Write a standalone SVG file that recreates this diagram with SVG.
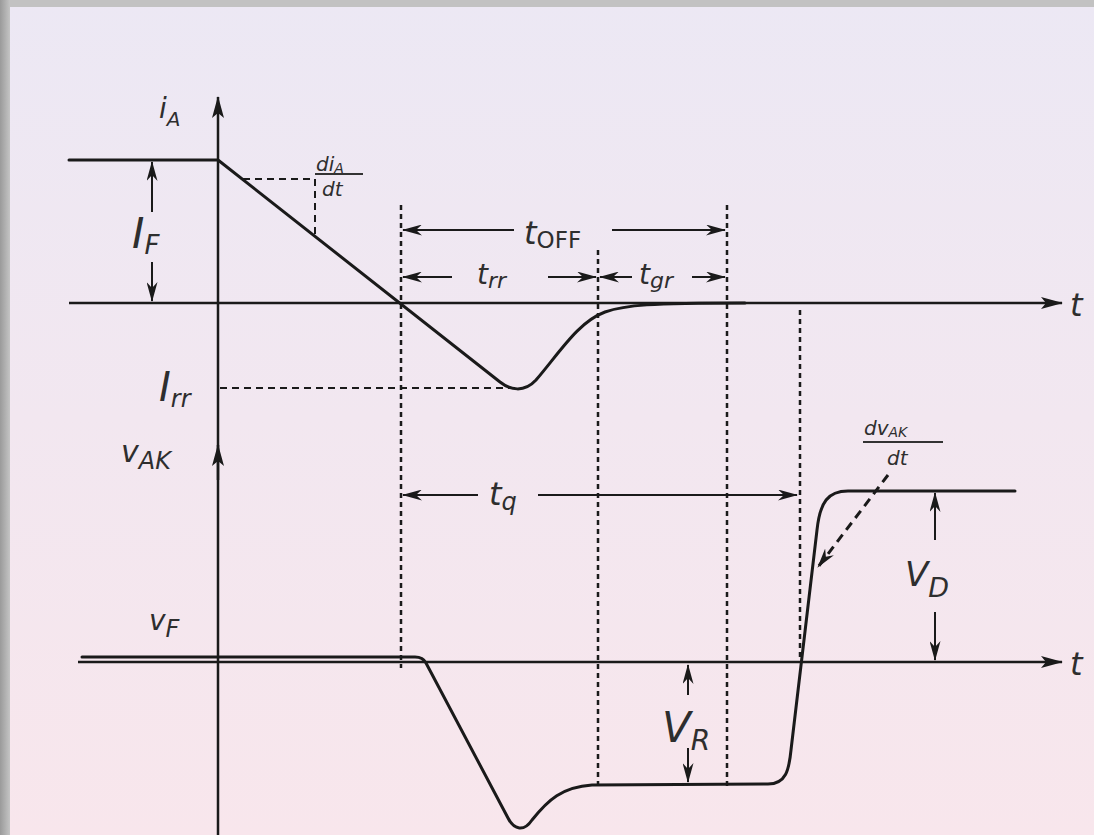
<svg xmlns="http://www.w3.org/2000/svg" width="1094" height="835" viewBox="0 0 1094 835">
<defs>
<linearGradient id="bg" x1="0" y1="0" x2="0" y2="1">
<stop offset="0" stop-color="#ece8f4"/>
<stop offset="1" stop-color="#f8e6ec"/>
</linearGradient>
<linearGradient id="fr" x1="0" y1="0" x2="1" y2="0">
<stop offset="0" stop-color="#9a9a9a"/>
<stop offset="1" stop-color="#c4c4c4"/>
</linearGradient>
<marker id="ax" viewBox="0 0 22 12" refX="21" refY="6" markerWidth="22" markerHeight="12" orient="auto" markerUnits="userSpaceOnUse">
<path d="M0,0 L22,6 L0,12 L5,6 z" fill="#1a1a1a"/>
</marker>
<marker id="ah" viewBox="0 0 20 11" refX="19" refY="5.5" markerWidth="20" markerHeight="11" orient="auto-start-reverse" markerUnits="userSpaceOnUse">
<path d="M0,0 L20,5.5 L0,11 L6,5.5 z" fill="#1a1a1a"/>
</marker>
<style>
.curve{fill:none;stroke:#1a1a1a;stroke-width:3;stroke-linejoin:round;stroke-linecap:round}
.axis{fill:none;stroke:#1a1a1a;stroke-width:2.5}
.vdash{fill:none;stroke:#1a1a1a;stroke-width:2.5;stroke-dasharray:5 4}
.hdash{fill:none;stroke:#1a1a1a;stroke-width:2;stroke-dasharray:7 5}
.dim{fill:none;stroke:#1a1a1a;stroke-width:2}
.lbl{font-family:"DejaVu Sans","Liberation Sans",sans-serif;font-style:italic;fill:#2e2e2e}
.up{font-style:normal}
</style>
</defs>
<rect x="0" y="0" width="1094" height="835" fill="url(#bg)"/>
<rect x="0" y="0" width="1094" height="7" fill="#c2c2c2"/>
<rect x="0" y="0" width="10" height="835" fill="url(#fr)"/>

<g id="axes">
<line class="axis" x1="218" y1="835" x2="218" y2="97" marker-end="url(#ax)"/>
<line class="axis" x1="218" y1="480" x2="218" y2="445" marker-end="url(#ax)"/>
<line class="axis" x1="69" y1="303" x2="1062" y2="303" marker-end="url(#ax)"/>
<line class="axis" x1="78" y1="662" x2="1062" y2="662" marker-end="url(#ax)"/>
<text class="lbl" x="1070" y="316" font-size="32">t</text>
<text class="lbl" x="1070" y="675" font-size="32">t</text>
</g>

<g id="guides">
<line class="vdash" x1="401" y1="205" x2="401" y2="668"/>
<line class="vdash" x1="598" y1="250" x2="598" y2="786"/>
<line class="vdash" x1="727" y1="205" x2="727" y2="786"/>
<line class="vdash" x1="800" y1="310" x2="800" y2="662"/>
<line class="hdash" x1="220" y1="388" x2="518" y2="388"/>
<path class="hdash" d="M243,179 L315,179 L315,234"/>
</g>

<g id="current-waveform">
<path class="curve" d="M69,160 L218,160 L500,382 C510,390 524,393 536,380 C560,352 578,322 605,312 C625,305 650,303 745,303"/>
<text class="lbl" x="159" y="118" font-size="28">i<tspan font-size="20" dy="8">A</tspan></text>
<text class="lbl" x="316" y="171" font-size="20">di<tspan font-size="14" dy="2">A</tspan></text>
<line x1="315" y1="174" x2="363" y2="174" stroke="#333" stroke-width="2"/>
<text class="lbl" x="322" y="196" font-size="20">dt</text>
<text class="lbl" x="132" y="248" font-size="42">I<tspan font-size="26" dy="6">F</tspan></text>
<text class="lbl" x="159" y="401" font-size="40">I<tspan font-size="24" dy="6">rr</tspan></text>
</g>

<g id="if-dimension">
<line class="dim" x1="152" y1="212" x2="152" y2="162" marker-end="url(#ah)"/>
<line class="dim" x1="152" y1="262" x2="152" y2="301" marker-end="url(#ah)"/>
</g>

<g id="toff">
<line class="dim" x1="514" y1="230" x2="403" y2="230" marker-end="url(#ah)"/>
<line class="dim" x1="612" y1="230" x2="725" y2="230" marker-end="url(#ah)"/>
<text class="lbl" x="524" y="244" font-size="32">t<tspan class="up" font-size="23" dy="4">OFF</tspan></text>
</g>

<g id="trr">
<line class="dim" x1="452" y1="277" x2="403" y2="277" marker-end="url(#ah)"/>
<line class="dim" x1="548" y1="277" x2="596" y2="277" marker-end="url(#ah)"/>
<text class="lbl" x="477" y="284" font-size="28">t<tspan font-size="22" dy="4">rr</tspan></text>
</g>

<g id="tgr">
<line class="dim" x1="632" y1="277" x2="600" y2="277" marker-end="url(#ah)"/>
<line class="dim" x1="692" y1="277" x2="725" y2="277" marker-end="url(#ah)"/>
<text class="lbl" x="639" y="284" font-size="28">t<tspan font-size="22" dy="4">gr</tspan></text>
</g>

<g id="voltage-waveform">
<path class="curve" stroke="#2a2a2a" d="M82,657 L415,657 C421,657 424,659 426,663 L508,818 C514,830 524,832 532,820 C548,800 562,787 592,785 L768,784 C786,784 789,770 791,750 L817,530 C820,502 828,491 848,491 L1015,491"/>
<text class="lbl" x="121" y="462" font-size="30">v<tspan font-size="24" dy="7">AK</tspan></text>
<text class="lbl" x="149" y="630" font-size="28">v<tspan font-size="24" dy="7">F</tspan></text>
</g>

<g id="tq">
<line class="dim" x1="478" y1="495" x2="403" y2="495" marker-end="url(#ah)"/>
<line class="dim" x1="538" y1="495" x2="797" y2="495" marker-end="url(#ah)"/>
<text class="lbl" x="489" y="505" font-size="32">t<tspan font-size="24" dy="5">q</tspan></text>
</g>

<g id="dvdt">
<line x1="888" y1="475" x2="818" y2="567" stroke="#1a1a1a" stroke-width="3" stroke-dasharray="9 6" marker-end="url(#ah)"/>
<text class="lbl" x="864" y="435" font-size="20">dv<tspan font-size="14" dy="2">AK</tspan></text>
<line x1="863" y1="442" x2="943" y2="442" stroke="#333" stroke-width="2"/>
<text class="lbl" x="887" y="465" font-size="20">dt</text>
</g>

<g id="vd-dimension">
<line class="dim" x1="935" y1="540" x2="935" y2="493" marker-end="url(#ah)"/>
<line class="dim" x1="935" y1="612" x2="935" y2="660" marker-end="url(#ah)"/>
<text class="lbl" x="905" y="586" font-size="34">V<tspan font-size="27" dy="11">D</tspan></text>
</g>

<g id="vr-dimension">
<line class="dim" x1="688" y1="695" x2="688" y2="665" marker-end="url(#ah)"/>
<line class="dim" x1="688" y1="748" x2="688" y2="782" marker-end="url(#ah)"/>
<text class="lbl" x="662" y="742" font-size="42">V<tspan font-size="28" dy="8">R</tspan></text>
</g>
</svg>
